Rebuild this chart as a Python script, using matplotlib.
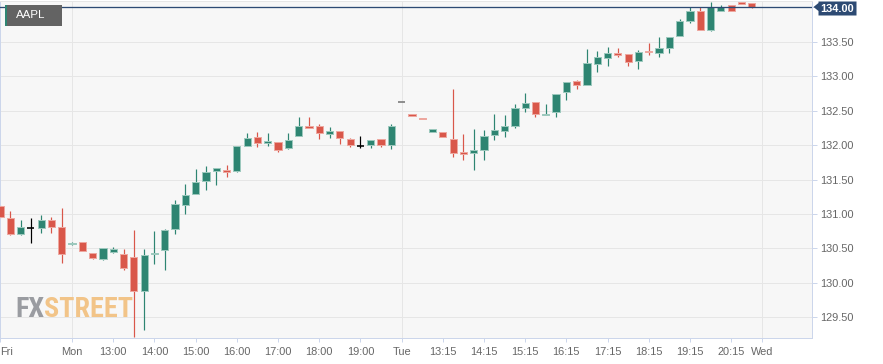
import matplotlib
matplotlib.use("Agg")
import matplotlib.pyplot as plt
from matplotlib.patches import Rectangle, Polygon
from matplotlib import font_manager as fm
import numpy as np

# ---------------- data ----------------
open_ = [131.115, 130.946, 130.705, 130.792, 130.796, 130.908, 130.806, 130.564, 130.597, 130.433,
         130.350, 130.443, 130.418, 130.371, 129.881, 130.423, 130.481, 130.777, 131.134, 131.285,
         131.474, 131.623, 131.642, 131.623, 131.990, 132.121, 132.034, 132.048, 131.961, 132.127,
         132.284, 132.276, 132.165, 132.199, 132.083, 131.986, 131.996, 132.092, 132.008, 132.625,
         132.446, 132.392, 132.185, 132.185, 132.083, 131.899, 131.884, 131.924, 132.146, 132.204,
         132.284, 132.533, 132.620, 132.436, 132.475, 132.777, 132.929, 132.876, 133.176, 133.268,
         133.336, 133.317, 133.220, 133.369, 133.336, 133.404, 133.578, 133.796, 133.941, 133.674,
         133.950, 134.032, 134.072, 134.066]
high = [131.130, 131.043, 130.908, 130.937, 130.985, 130.956, 131.086, 130.590, 130.600, 130.440,
        130.506, 130.516, 130.487, 130.767, 130.487, 130.748, 130.781, 131.202, 131.430, 131.648,
        131.691, 131.671, 131.706, 131.993, 132.175, 132.185, 132.170, 132.048, 132.175, 132.404,
        132.404, 132.305, 132.257, 132.199, 132.102, 132.127, 132.073, 132.092, 132.305, 132.625,
        132.446, 132.392, 132.228, 132.185, 132.809, 132.160, 132.228, 132.214, 132.446, 132.436,
        132.596, 132.752, 132.620, 132.596, 132.744, 132.915, 132.944, 133.390, 133.365, 133.423,
        133.404, 133.317, 133.379, 133.481, 133.568, 133.568, 133.825, 133.999, 134.008, 134.072,
        134.037, 134.032, 134.072, 134.066]
low = [130.941, 130.690, 130.690, 130.574, 130.728, 130.728, 130.284, 130.555, 130.466, 130.350,
       130.327, 130.429, 130.186, 129.209, 129.311, 130.273, 130.186, 130.705, 130.995, 131.285,
       131.347, 131.416, 131.532, 131.616, 131.990, 131.976, 131.993, 131.895, 131.947, 132.127,
       132.243, 132.083, 132.098, 132.011, 131.976, 131.961, 131.961, 131.967, 131.938, 132.625,
       132.417, 132.384, 132.185, 132.117, 131.822, 131.778, 131.633, 131.778, 132.069, 132.112,
       132.252, 132.487, 132.403, 132.436, 132.403, 132.651, 132.809, 132.876, 133.056, 133.143,
       133.282, 133.143, 133.099, 133.307, 133.273, 133.340, 133.578, 133.776, 133.674, 133.655,
       133.950, 133.950, 134.051, 133.993]
close = [130.956, 130.705, 130.811, 130.792, 130.908, 130.811, 130.414, 130.583, 130.466, 130.360,
         130.506, 130.487, 130.215, 129.881, 130.408, 130.433, 130.767, 131.140, 131.279, 131.459,
         131.604, 131.662, 131.613, 131.982, 132.106, 132.025, 132.059, 131.932, 132.069, 132.272,
         132.243, 132.170, 132.199, 132.106, 131.996, 131.986, 132.073, 132.005, 132.272, 132.625,
         132.417, 132.384, 132.228, 132.117, 131.884, 131.877, 131.924, 132.127, 132.214, 132.276,
         132.533, 132.606, 132.446, 132.458, 132.744, 132.915, 132.876, 133.186, 133.278, 133.336,
         133.311, 133.205, 133.355, 133.346, 133.404, 133.568, 133.800, 133.945, 133.674, 133.999,
         134.003, 133.950, 134.051, 134.004]

tick_pos = [0, 7, 11, 15, 19, 23, 27, 31, 35, 39, 43, 47, 51, 55, 59, 63, 67, 71, 74]
tick_labels = ["Fri", "Mon", "13:00", "14:00", "15:00", "16:00", "17:00", "18:00", "19:00",
               "Tue", "13:15", "14:15", "15:15", "16:15", "17:15", "18:15", "19:15", "20:15", "Wed"]
day_breaks = [7, 39, 74]
y_ticks = [129.5, 130.0, 130.5, 131.0, 131.5, 132.0, 132.5, 133.0, 133.5, 134.0]
symbol = "AAPL"

# ---------------- style ----------------
W, H = 883, 364
PX = 0.72  # one pixel in points at dpi 100
GREEN, GREEN_E = "#2e8572", "#9cc8bd"
RED, RED_E = "#d9574a", "#eda79f"
NAVY = "#2d4a73"
GRID = "#e6e6e6"
AXC = "#ccd6eb"
TXT = "#666666"

plt.rcParams['font.family'] = ['Liberation Sans', 'DejaVu Sans']

fig = plt.figure(figsize=(W / 100, H / 100), dpi=100)
fig.patch.set_facecolor("white")
ax = fig.add_axes([0, 26 / H, 812 / W, 337 / H])
ax.set_facecolor("#f7f7f7")
ax.set_xlim(0, 78.85)
ax.set_ylim(129.2, 134.091)

for yv in y_ticks:
    ax.axhline(yv, color=GRID, lw=1 * PX, zorder=0.3)
for xv in day_breaks:
    ax.axvline(xv, color=GRID, lw=1 * PX, zorder=0.3)

# watermark
names = {f.name for f in fm.fontManager.ttflist}
wm_family = "DejaVu Sans"
for cand in ["Liberation Sans Narrow", "Roboto Condensed", "Open Sans Condensed", "Noto Sans Display"]:
    if cand in names:
        wm_family = cand
        break
fx = ax.text(15 / 812, (338 - 316.7) / 337, "FX", transform=ax.transAxes, fontsize=22,
             fontweight="bold", color="#9a9ca1", family=wm_family, fontstretch="condensed",
             ha="left", va="baseline", zorder=0.5)
st = ax.annotate("STREET", xy=(1, 0), xycoords=fx, fontsize=22, fontweight="bold",
                 color="#f2c488", family=wm_family, fontstretch="condensed",
                 ha="left", va="bottom", zorder=0.5, annotation_clip=False)
fig.canvas.draw()
r = fig.canvas.get_renderer()
wtot = fx.get_window_extent(r).width + st.get_window_extent(r).width
size = 22 * 118.0 / wtot
fx.set_fontsize(size)
st.set_fontsize(size)

# candles
x = np.arange(len(open_))
bw = 0.7
for i in x:
    o, h, l, c = open_[i], high[i], low[i], close[i]
    if o == c:
        col = "#777777" if h == l else "black"
        if h > l:
            ax.vlines(i, l, h, color=col, lw=1.2 * PX, zorder=2)
        ax.hlines(o, i - bw / 2, i + bw / 2, color=col, lw=1.6 * PX, zorder=3)
        continue
    up = c > o
    fc, ec = (GREEN, GREEN_E) if up else (RED, RED_E)
    if h > l:
        ax.vlines(i, l, h, color=fc, lw=1.2 * PX, zorder=2)
    ax.bar(i, c - o, bottom=o, width=bw, color=fc, edgecolor=ec, linewidth=1 * PX, zorder=3)

# current price line
last = close[-1]
ax.axhline(last, color=NAVY, lw=1.3 * PX, zorder=5)

# axes styling
for s in ["left", "bottom", "right"]:
    ax.spines[s].set_color(AXC)
    ax.spines[s].set_linewidth(1 * PX)
ax.spines["top"].set_color(GRID)
ax.spines["top"].set_linewidth(1 * PX)

ax.yaxis.tick_right()
ax.set_yticks(y_ticks)
ax.set_yticklabels(["%.2f" % v if v < 134 else "" for v in y_ticks])
ax.tick_params(axis="y", right=True, left=False, length=5 * PX, width=1 * PX, color=AXC,
               labelsize=11 * PX, labelcolor=TXT, pad=3 * PX)
ax.set_xticks(tick_pos)
ax.set_xticklabels(tick_labels)
ax.tick_params(axis="x", length=4 * PX, width=1 * PX, color=AXC,
               labelsize=11 * PX, labelcolor=TXT, pad=5 * PX)
ax.get_xticklabels()[0].set_ha("left")

# symbol label (top-left)
def fx_(px):
    return px / W
def fy_(py):
    return 1 - py / H

fig.patches.append(Rectangle((fx_(6.7), fy_(26)), fx_(55.3), 21 / H, transform=fig.transFigure,
                             facecolor="#636363", edgecolor="none", zorder=10))
fig.patches.append(Rectangle((fx_(4.7), fy_(26)), fx_(2), 21 / H, transform=fig.transFigure,
                             facecolor=GREEN, edgecolor="none", zorder=11))
fig.text(fx_(15.5), fy_(15.5), symbol, color="white", fontsize=11.5 * PX, ha="left", va="center",
         zorder=12)

# price label box on the right
fig.canvas.draw()
_, ly = ax.transData.transform((0, last))
ly_top = H - ly  # pixel from top
poly = [(813.5, ly_top), (818.5, ly_top - 4), (818.5, 1.5), (856.5, 1.5), (856.5, 15.5),
        (818.5, 15.5), (818.5, ly_top + 4)]
poly_f = [(fx_(px), fy_(py)) for px, py in poly]
fig.patches.append(Polygon(poly_f, closed=True, transform=fig.transFigure, facecolor=NAVY,
                           edgecolor="none", zorder=10))
fig.text(fx_(837.5), fy_(8.5), "%.2f" % last, color="white", fontsize=11 * PX, fontweight="bold",
         ha="center", va="center", zorder=12)

fig.savefig("out.png", dpi=100)
